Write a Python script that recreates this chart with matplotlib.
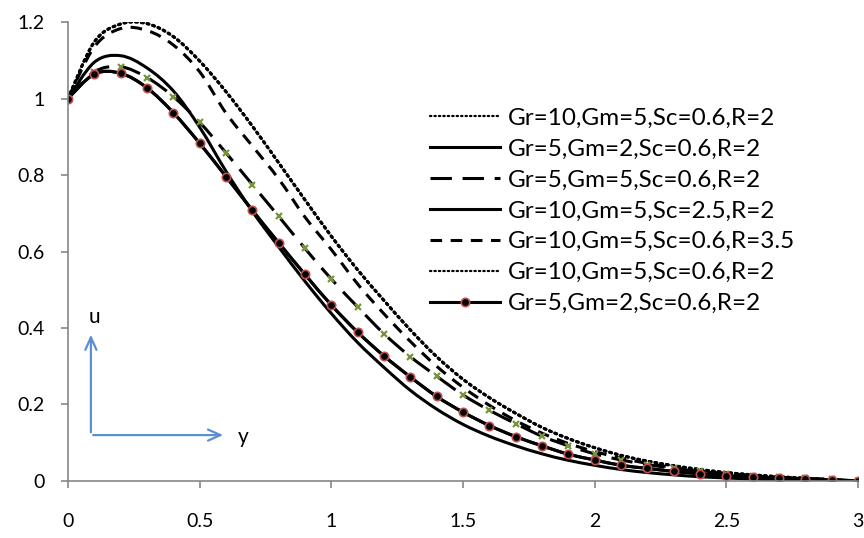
import matplotlib
matplotlib.use('Agg')
import numpy as np
import matplotlib.pyplot as plt
from matplotlib.path import Path
from matplotlib.patches import PathPatch
from matplotlib.lines import Line2D

# y positions (horizontal axis)
y_pos = [0.0, 0.1, 0.2, 0.3, 0.4, 0.5, 0.6, 0.7, 0.8, 0.9, 1.0,
         1.1, 1.2, 1.3, 1.4, 1.5, 1.6, 1.7, 1.8, 1.9, 2.0,
         2.1, 2.2, 2.3, 2.4, 2.5, 2.6, 2.7, 2.8, 2.9, 3.0]

# Gr=10, Gm=5, Sc=0.6, R=2
u_gr10_gm5 = [1.0, 1.148, 1.195, 1.196, 1.162, 1.098, 1.018, 0.928, 0.832, 0.735, 0.640,
              0.552, 0.472, 0.395, 0.325, 0.266, 0.218, 0.177, 0.140, 0.111, 0.087,
              0.067, 0.052, 0.040, 0.030, 0.022, 0.016, 0.011, 0.007, 0.003, 0.0]
# Gr=5, Gm=2, Sc=0.6, R=2
u_gr5_gm2 = [1.0, 1.064, 1.066, 1.028, 0.963, 0.883, 0.796, 0.708, 0.623, 0.540, 0.460,
             0.389, 0.327, 0.272, 0.221, 0.180, 0.145, 0.116, 0.092, 0.070, 0.055,
             0.041, 0.033, 0.025, 0.019, 0.014, 0.010, 0.007, 0.004, 0.002, 0.0]
# Gr=5, Gm=5, Sc=0.6, R=2
u_gr5_gm5 = [1.0, 1.070, 1.083, 1.055, 1.005, 0.938, 0.858, 0.775, 0.692, 0.608, 0.528,
             0.455, 0.385, 0.325, 0.274, 0.225, 0.185, 0.150, 0.117, 0.092, 0.071,
             0.055, 0.043, 0.033, 0.025, 0.019, 0.014, 0.010, 0.007, 0.004, 0.0]
# Gr=10, Gm=5, Sc=2.5, R=2
u_sc25 = [1.0, 1.095, 1.112, 1.080, 1.020, 0.925, 0.810, 0.705, 0.612, 0.522, 0.438,
          0.362, 0.297, 0.237, 0.188, 0.148, 0.117, 0.092, 0.071, 0.054, 0.041,
          0.030, 0.022, 0.016, 0.011, 0.008, 0.005, 0.003, 0.002, 0.001, 0.0]
# Gr=10, Gm=5, Sc=0.6, R=3.5
u_r35 = [1.0, 1.135, 1.183, 1.178, 1.140, 1.070, 0.962, 0.876, 0.790, 0.690, 0.605,
         0.515, 0.437, 0.365, 0.300, 0.245, 0.198, 0.158, 0.125, 0.098, 0.077,
         0.060, 0.046, 0.035, 0.026, 0.019, 0.014, 0.009, 0.006, 0.003, 0.0]

labels = ['Gr=10,Gm=5,Sc=0.6,R=2', 'Gr=5,Gm=2,Sc=0.6,R=2', 'Gr=5,Gm=5,Sc=0.6,R=2',
          'Gr=10,Gm=5,Sc=2.5,R=2', 'Gr=10,Gm=5,Sc=0.6,R=3.5', 'Gr=10,Gm=5,Sc=0.6,R=2',
          'Gr=5,Gm=2,Sc=0.6,R=2']

plt.rcParams['font.family'] = ['Lato', 'DejaVu Sans']


def smooth_path(xs, ys):
    # excel-style smoothed line: bezier segments through every data point
    p = np.column_stack([xs, ys])
    n = len(p)
    verts = [p[0]]
    codes = [Path.MOVETO]
    for i in range(n - 1):
        p0 = p[max(i - 1, 0)]
        p1 = p[i]
        p2 = p[i + 1]
        p3 = p[min(i + 2, n - 1)]
        verts += [p1 + (p2 - p0) / 6, p2 - (p3 - p1) / 6, p2]
        codes += [Path.CURVE4] * 3
    return Path(verts, codes)


def draw(ax, ys, ls, **kw):
    patch = PathPatch(smooth_path(y_pos, ys), fill=False, edgecolor='black', lw=lw, linestyle=ls, **kw)
    ax.add_patch(patch)


fig = plt.figure(figsize=(8.64, 5.38), dpi=100)
ax = fig.add_axes([0.0787, 0.106, 0.9143, 0.853])

lw = 2.2
dot = (0, (0.6, 1.3))
long_dash = (0, (7, 3.5))
short_dash = (0, (3.8, 2.8))

draw(ax, u_gr10_gm5, dot, capstyle='round')
draw(ax, u_gr5_gm2, '-')
draw(ax, u_gr5_gm5, long_dash)
draw(ax, u_sc25, '-')
draw(ax, u_r35, short_dash)
draw(ax, u_gr10_gm5, dot, capstyle='round')
# green markers sitting on the long-dash curve
ax.plot(y_pos, u_gr5_gm5, ls='none', marker='x', ms=4, mew=1.6, color='#77933c')
draw(ax, u_gr5_gm2, '-')
ax.plot(y_pos, u_gr5_gm2, ls='none', marker='o', ms=6, mfc='black', mec='#c0504d', mew=1.2)

handles = [
    Line2D([], [], color='black', lw=1.6, ls=(0, (0.6, 1.4)), dash_capstyle='round'),
    Line2D([], [], color='black', lw=lw),
    Line2D([], [], color='black', lw=lw, ls=(0, (7, 3.5))),
    Line2D([], [], color='black', lw=lw),
    Line2D([], [], color='black', lw=lw, ls=(0, (3.8, 2.8))),
    Line2D([], [], color='black', lw=1.6, ls=(0, (0.6, 1.4)), dash_capstyle='round'),
    Line2D([], [], color='black', lw=lw, marker='o', ms=6, mfc='black', mec='#c0504d', mew=1.2),
]

ax.set_xlim(0, 3)
ax.set_ylim(0, 1.2)
ax.set_xticks([0, 0.5, 1, 1.5, 2, 2.5, 3])
ax.set_xticklabels(['0', '0.5', '1', '1.5', '2', '2.5', '3'])
ax.set_yticks([0, 0.2, 0.4, 0.6, 0.8, 1.0, 1.2])
ax.set_yticklabels(['0', '0.2', '0.4', '0.6', '0.8', '1', '1.2'])
for s in ['top', 'right']:
    ax.spines[s].set_visible(False)
for s in ['left', 'bottom']:
    ax.spines[s].set_color('#868686')
    ax.spines[s].set_linewidth(1.2)
ax.tick_params(axis='both', colors='#868686', labelcolor='black', labelsize=14, length=5, width=1.2)
ax.tick_params(axis='x', pad=18)
ax.tick_params(axis='y', pad=12)

# axis direction sketch
arrow_col = '#5b8fd0'
ax.annotate('', xy=(0.087, 0.39), xytext=(0.087, 0.12),
            arrowprops=dict(arrowstyle='->,head_length=0.9,head_width=0.4', color=arrow_col, lw=1.6))
ax.annotate('', xy=(0.60, 0.12), xytext=(0.085, 0.12),
            arrowprops=dict(arrowstyle='->,head_length=0.9,head_width=0.4', color=arrow_col, lw=1.6))
ax.text(0.099, 0.43, 'u', fontsize=15, ha='center', va='center')
ax.text(0.665, 0.115, 'y', fontsize=15, ha='center', va='center')

ax.legend(handles, labels, loc='upper left', bbox_to_anchor=(0.458, 0.813), frameon=False, fontsize=17.5,
          handlelength=2.9, handletextpad=0.33, labelspacing=0.405, borderpad=0, borderaxespad=0)

fig.savefig('out.png', dpi=100)
